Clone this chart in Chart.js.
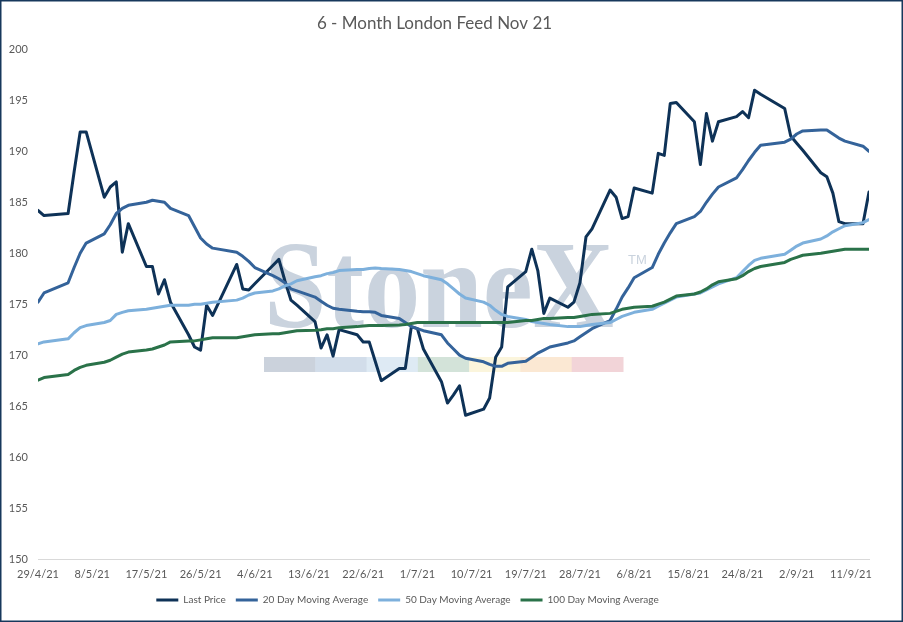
<!DOCTYPE html>
<html><head><meta charset="utf-8">
<script src="https://cdn.jsdelivr.net/npm/chart.js@4/dist/chart.umd.min.js"></script>
<style>html,body{margin:0;padding:0;background:#fff;}canvas{display:block;}</style>
</head><body>
<canvas id="c" width="903" height="622"></canvas>
<script>
const chartTitle = '6 - Month London Feed Nov 21';
const seriesNames = ['Last Price', '20 Day Moving Average', '50 Day Moving Average', '100 Day Moving Average'];
const seriesColors = ['#0E3257', '#34639A', '#7DB0DC', '#2A7249'];
const xTickLabels = ['29/4/21','8/5/21','17/5/21','26/5/21','4/6/21','13/6/21','22/6/21','1/7/21','10/7/21','19/7/21','28/7/21','6/8/21','15/8/21','24/8/21','2/9/21','11/9/21'];
const yTicks = [150, 200, 5]; // min, max, step

const tradingDays = ['29/4/21','30/4/21',
 '4/5/21','5/5/21','6/5/21','7/5/21','10/5/21','11/5/21','12/5/21','13/5/21','14/5/21','17/5/21','18/5/21','19/5/21','20/5/21','21/5/21','24/5/21','25/5/21','26/5/21','27/5/21','28/5/21',
 '1/6/21','2/6/21','3/6/21','4/6/21','7/6/21','8/6/21','9/6/21','10/6/21','11/6/21','14/6/21','15/6/21','16/6/21','17/6/21','18/6/21','21/6/21','22/6/21','23/6/21','24/6/21','25/6/21','28/6/21','29/6/21','30/6/21',
 '1/7/21','2/7/21','5/7/21','6/7/21','7/7/21','8/7/21','9/7/21','12/7/21','13/7/21','14/7/21','15/7/21','16/7/21','19/7/21','20/7/21','21/7/21','22/7/21','23/7/21','26/7/21','27/7/21','28/7/21','29/7/21','30/7/21',
 '2/8/21','3/8/21','4/8/21','5/8/21','6/8/21','9/8/21','10/8/21','11/8/21','12/8/21','13/8/21','16/8/21','17/8/21','18/8/21','19/8/21','20/8/21','23/8/21','24/8/21','25/8/21','26/8/21','27/8/21','31/8/21',
 '1/9/21','2/9/21','3/9/21','6/9/21','7/9/21','8/9/21','9/9/21','10/9/21','13/9/21','14/9/21'];

const lastPrice = [184.2,183.7,
 183.9,188.0,191.9,191.9,185.5,186.5,187.0,180.1,182.9,178.7,178.7,176.0,177.4,175.2,172.0,170.8,170.5,174.9,173.9,
 178.9,176.5,176.4,177.0,178.8,179.4,177.3,175.4,174.9,173.3,170.7,172.0,169.9,172.5,172.0,171.3,171.3,169.4,167.5,168.7,168.7,172.8,
 172.6,170.6,167.4,165.3,166.1,167.0,164.1,164.7,165.8,169.8,170.8,176.7,178.2,180.4,178.3,174.1,175.6,174.7,175.2,177.1,181.6,182.4,
 186.2,185.5,183.4,183.6,186.4,185.9,189.8,189.6,194.7,194.8,192.9,188.7,193.7,191.0,192.9,193.4,193.9,193.3,196.0,195.6,194.2,
 191.5,190.8,190.1,187.9,187.5,185.9,183.1,182.9,182.9,186.0];

const ma20 = [175.2,176.1,
 177.1,178.6,180.0,181.0,181.9,182.8,183.9,184.4,184.7,185.0,185.2,185.1,185.0,184.4,183.7,182.6,181.5,180.9,180.5,
 180.1,179.7,179.2,178.6,177.8,177.5,177.1,176.5,176.3,175.7,175.3,174.9,174.6,174.5,174.3,174.25,174.25,174.2,173.9,173.6,173.2,172.8,
 172.6,172.4,172.0,171.2,170.6,170.0,169.7,169.35,169.1,168.9,168.9,169.2,169.4,169.8,170.2,170.5,170.8,171.2,171.4,171.8,172.2,172.6,
 173.4,174.5,175.7,176.6,177.6,178.6,179.9,181.0,182.0,182.9,183.6,184.1,185.0,185.8,186.5,187.4,188.2,189.1,189.9,190.6,190.9,
 191.2,191.7,192.0,192.1,192.1,191.7,191.3,191.0,190.5,190.0];

const ma50 = [171.1,171.3,
 171.6,172.2,172.7,172.9,173.2,173.4,174.0,174.2,174.35,174.5,174.6,174.7,174.8,174.9,174.9,175.0,175.0,175.1,175.2,
 175.4,175.6,175.9,176.1,176.3,176.5,176.8,177.0,177.3,177.7,177.8,178.0,178.1,178.3,178.4,178.4,178.5,178.55,178.5,178.4,178.3,178.2,
 178.0,177.8,177.4,177.0,176.5,176.0,175.6,175.2,174.9,174.4,174.0,173.8,173.5,173.3,173.2,173.1,173.0,172.8,172.8,172.8,172.9,173.0,
 173.2,173.5,173.8,174.0,174.2,174.5,174.8,175.1,175.4,175.7,176.0,176.1,176.4,176.7,177.0,177.6,178.2,178.8,179.3,179.5,179.9,
 180.3,180.7,181.0,181.4,181.7,182.1,182.4,182.7,183.0,183.3];

const ma100 = [167.55,167.8,
 168.1,168.5,168.8,169.0,169.3,169.5,169.8,170.1,170.3,170.5,170.6,170.8,171.0,171.3,171.4,171.4,171.5,171.6,171.7,
 171.7,171.8,171.9,172.0,172.1,172.1,172.2,172.3,172.4,172.45,172.5,172.6,172.6,172.7,172.8,172.85,172.9,172.9,172.9,172.95,173.0,173.1,
 173.2,173.2,173.2,173.2,173.2,173.2,173.2,173.2,173.2,173.2,173.2,173.2,173.4,173.4,173.5,173.6,173.6,173.7,173.7,173.8,173.9,174.0,
 174.1,174.3,174.5,174.6,174.7,174.8,175.0,175.2,175.5,175.8,176.0,176.2,176.5,176.9,177.2,177.5,177.8,178.2,178.5,178.7,179.1,
 179.4,179.6,179.8,180.0,180.1,180.2,180.3,180.4,180.4,180.4];

const baseDay = Date.UTC(2021, 3, 29);
function dayOffset(s) {
  const p = s.split('/').map(Number);
  return Math.round((Date.UTC(2000 + p[2], p[1] - 1, p[0]) - baseDay) / 864e5);
}
const xs = tradingDays.map(dayOffset);
const allSeries = [lastPrice, ma20, ma50, ma100];

const watermark = {
  id: 'watermark',
  beforeDatasetsDraw(chart) {
    const ctx = chart.ctx;
    ctx.save();
    const bars = ['#CBD2DC','#D2DDEA','#DEEAF4','#D3E3D9','#FBF5DC','#FBE8D3','#F2D4D8'];
    const bx = 264, bw = (623 - 264) / bars.length;
    bars.forEach((c, i) => { ctx.fillStyle = c; ctx.fillRect(bx + i * bw, 357, bw + 0.5, 15); });
    ctx.fillStyle = '#CAD3DE';
    ctx.font = 'bold 124px "Liberation Serif"';
    ctx.textBaseline = 'alphabetic';
    const w = ctx.measureText('StoneX').width;
    ctx.translate(264, 327);
    ctx.scale(350 / w, 1);
    ctx.fillText('StoneX', 0, 0);
    ctx.restore();
    ctx.save();
    ctx.fillStyle = '#CAD3DE';
    ctx.font = '13px "Liberation Sans"';
    ctx.fillText('TM', 628, 260);
    ctx.restore();
  }
};
const frame = {
  id: 'frame',
  afterDraw(chart) {
    const ctx = chart.ctx;
    ctx.save();
    ctx.strokeStyle = '#17385C';
    ctx.lineWidth = 1.5;
    ctx.strokeRect(0.75, 0.75, 901.5, 620.5);
    ctx.restore();
  }
};
const legendShift = {
  id: 'legendShift',
  afterLayout(chart) {
    if (chart.legend) { chart.legend.left -= 27; chart.legend.right -= 27; }
  }
};

new Chart(document.getElementById('c'), {
  type: 'line',
  data: {
    datasets: allSeries.map((vals, i) => ({
      label: seriesNames[i],
      data: vals.map((v, j) => ({ x: xs[j], y: v })),
      borderColor: seriesColors[i],
      backgroundColor: seriesColors[i],
      borderWidth: 3,
      pointRadius: 0,
      tension: 0,
      fill: false,
      borderJoinStyle: 'round',
      borderCapStyle: 'round',
      order: 3 - i
    }))
  },
  options: {
    responsive: false,
    devicePixelRatio: 1,
    animation: false,
    events: [],
    layout: { padding: { left: 0, right: 34, top: 0, bottom: 7 } },
    plugins: {
      title: {
        display: true, text: chartTitle, color: '#595959',
        font: { family: 'Lato', size: 17, weight: 'normal' },
        padding: { top: 13, bottom: 16 }
      },
      legend: {
        position: 'bottom',
        labels: {
          color: '#595959',
          font: { family: 'Lato', size: 10 },
          usePointStyle: true, pointStyle: 'line', pointStyleWidth: 22, boxHeight: 10,
          padding: 10,
          sort: (a, b) => a.datasetIndex - b.datasetIndex
        }
      },
      tooltip: { enabled: false }
    },
    scales: {
      x: {
        type: 'linear', min: 0, max: dayOffset('14/9/21'),
        grid: { display: false, drawTicks: false },
        border: { display: true, color: '#D9D9D9', width: 1 },
        afterBuildTicks: (s) => { s.ticks = xTickLabels.map(l => ({ value: dayOffset(l) })); },
        afterFit: (s) => { s.height = 26; },
        ticks: {
          autoSkip: false, maxRotation: 0, padding: 9,
          color: '#595959', font: { family: 'Lato', size: 11 },
          callback: (v, i) => xTickLabels[i]
        }
      },
      y: {
        min: yTicks[0], max: yTicks[1],
        grid: { display: false, drawTicks: false },
        border: { display: false },
        afterFit: (s) => { s.width = 38; },
        ticks: { stepSize: yTicks[2], padding: 10, color: '#595959', font: { family: 'Lato', size: 11 } }
      }
    }
  },
  plugins: [watermark, frame, legendShift]
});
</script>
</body></html>
